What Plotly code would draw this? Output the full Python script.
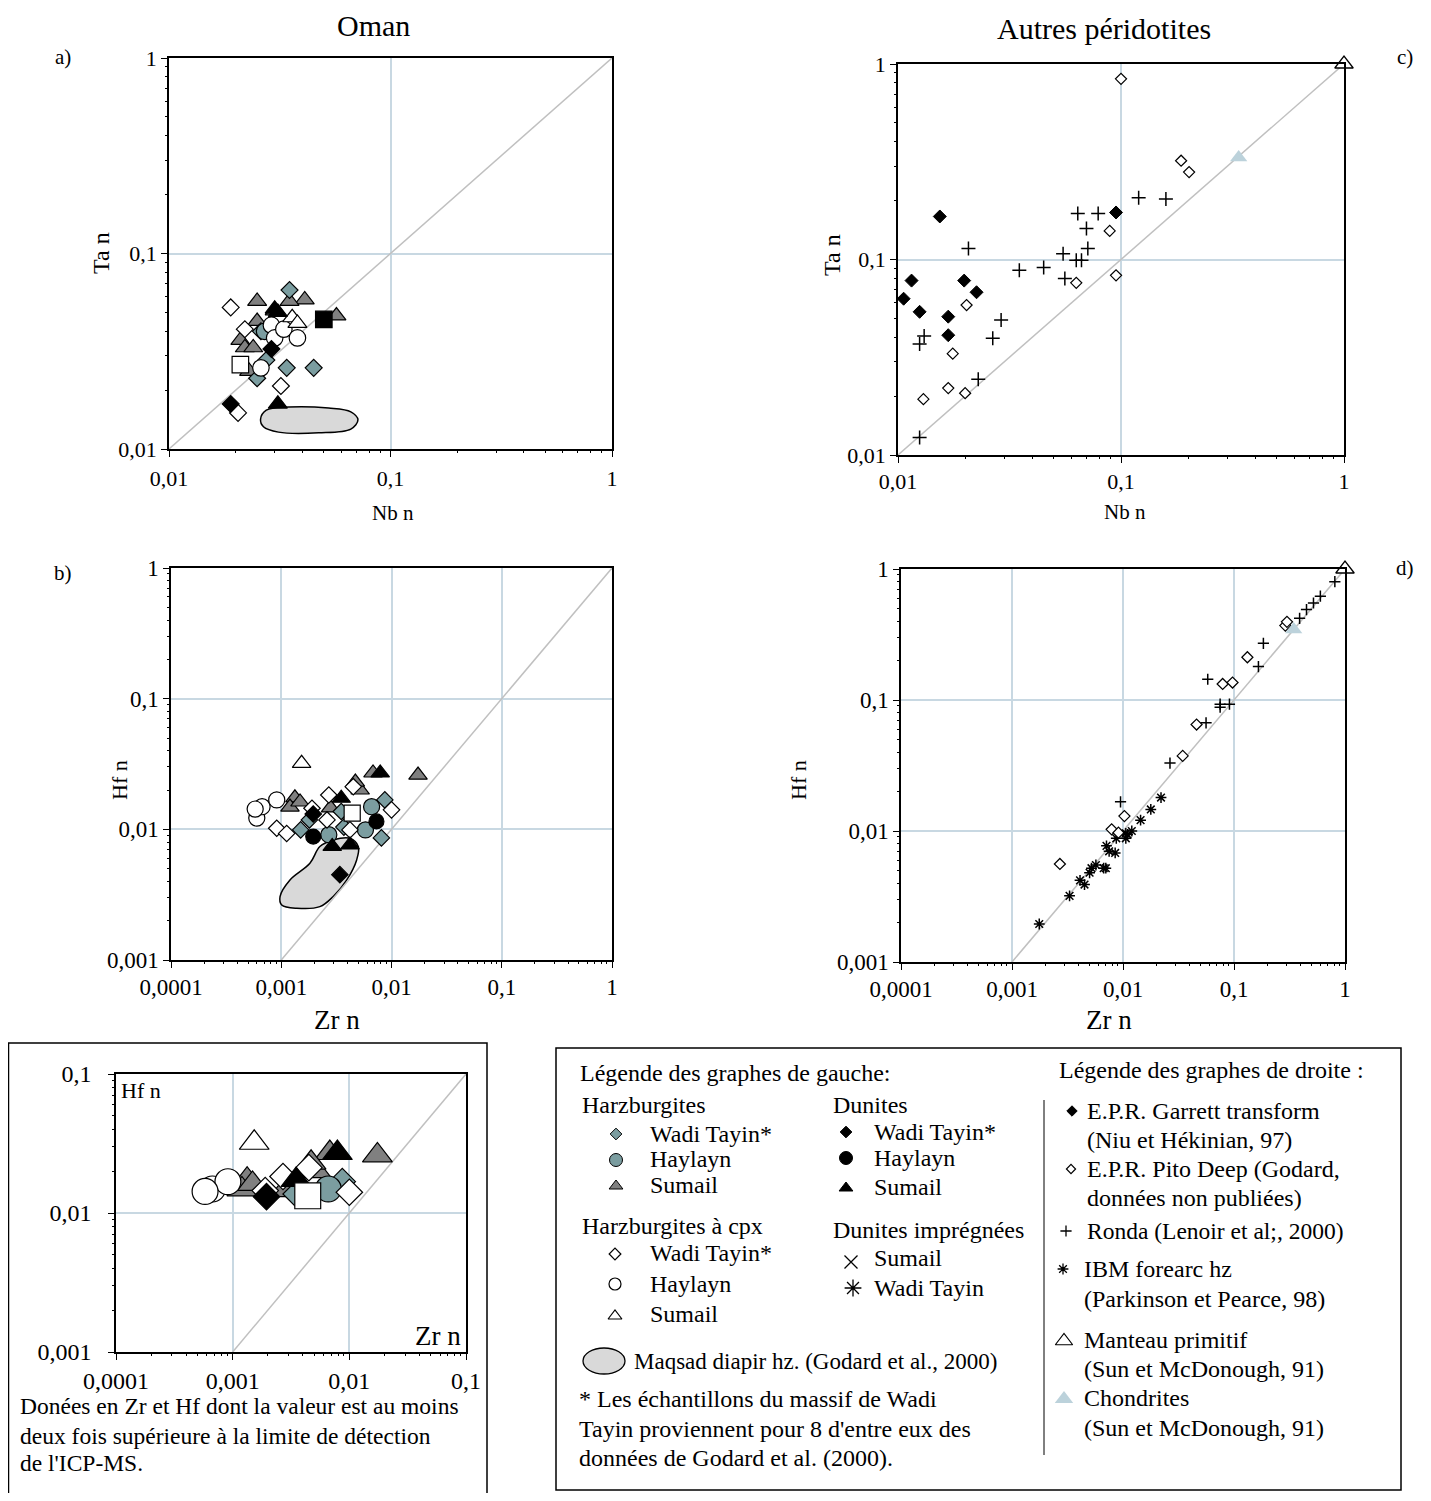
import plotly.graph_objects as go

# page body has an 8px margin: the figure is sized to fit inside the window
OFF = 8
W, H = 1415, 1485

# ---------------- DATA ----------------
# Panel a (Oman) : Nb n vs Ta n
a_harz_wt_nb = [0.035, 0.034, 0.045, 0.025, 0.0275, 0.026]
a_harz_wt_ta = [0.065, 0.026, 0.026, 0.023, 0.0285, 0.040]
a_harz_hay_nb = [0.027]
a_harz_hay_ta = [0.040]
a_harz_sum_nb = [0.025, 0.041, 0.035, 0.057, 0.025, 0.021, 0.022, 0.024, 0.023, 0.030]
a_harz_sum_ta = [0.057, 0.058, 0.057, 0.048, 0.045, 0.036, 0.033, 0.033, 0.025, 0.051]
a_cpx_wt_nb = [0.019, 0.022, 0.032, 0.0205]
a_cpx_wt_ta = [0.053, 0.041, 0.021, 0.0153]
a_cpx_hay_nb = [0.029, 0.030, 0.033, 0.038, 0.026]
a_cpx_hay_ta = [0.043, 0.037, 0.041, 0.037, 0.026]
a_cpx_sum_nb = [0.036, 0.038]
a_cpx_sum_ta = [0.047, 0.044]
a_dun_wt_nb = [0.029, 0.019]
a_dun_wt_ta = [0.0325, 0.017]
a_dun_sum_nb = [0.030, 0.031, 0.031]
a_dun_sum_ta = [0.052, 0.050, 0.017]
a_imp_sum_nb = [0.021]
a_imp_sum_ta = [0.027]
a_imp_wt_nb = [0.050]
a_imp_wt_ta = [0.046]
a_maqsad_nb = [0.0259, 0.0275, 0.0347, 0.0526, 0.0662, 0.0713, 0.0662, 0.0474, 0.0312, 0.0267, 0.0259]
a_maqsad_ta = [0.0142, 0.0158, 0.0164, 0.0162, 0.0155, 0.0141, 0.01265, 0.0121, 0.0122, 0.0130, 0.0142]

# Panel b (Oman) : Zr n vs Hf n
b_harz_wt_zr = [0.0015, 0.0018, 0.0037, 0.0087, 0.0081, 0.0035]
b_harz_wt_hf = [0.0099, 0.0118, 0.0104, 0.0168, 0.0086, 0.0137]
b_harz_hay_zr = [0.0027, 0.0058, 0.0066]
b_harz_hay_hf = [0.0091, 0.0099, 0.0149]
b_harz_sum_zr = [0.0068, 0.0174, 0.0052, 0.00133, 0.0012, 0.00148, 0.0028, 0.0047]
b_harz_sum_hf = [0.027, 0.026, 0.020, 0.0174, 0.0148, 0.0162, 0.0146, 0.023]
b_cpx_wt_zr = [0.00091, 0.00112, 0.0027, 0.0045, 0.0026, 0.010, 0.0019, 0.0042]
b_cpx_wt_hf = [0.0102, 0.0093, 0.0183, 0.0212, 0.0118, 0.0141, 0.0145, 0.0099]
b_cpx_hay_zr = [0.0006, 0.00067, 0.00091, 0.00058]
b_cpx_hay_hf = [0.0122, 0.0149, 0.0168, 0.0143]
b_cpx_sum_zr = [0.00153]
b_cpx_sum_hf = [0.032]
b_dun_wt_zr = [0.00195, 0.0034]
b_dun_wt_hf = [0.0131, 0.0045]
b_dun_hay_zr = [0.00195, 0.0073]
b_dun_hay_hf = [0.0088, 0.0115]
b_dun_sum_zr = [0.0079, 0.0035, 0.0029, 0.0042]
b_dun_sum_hf = [0.027, 0.0173, 0.0074, 0.0076]
b_imp_sum_zr = [0.0044]
b_imp_sum_hf = [0.0133]
b_maqsad_zr = [0.000975, 0.0012, 0.00182, 0.00224, 0.00296, 0.0042, 0.0050, 0.00483,
               0.00393, 0.00296, 0.00224, 0.00138, 0.00101, 0.000975]
b_maqsad_hf = [0.00306, 0.0041, 0.0055, 0.00738, 0.0083, 0.00855, 0.00738, 0.00583,
               0.0041, 0.00306, 0.00256, 0.00249, 0.00264, 0.00306]
inset_min_hf = 0.0125  # inset keeps the better-determined (higher) values

# Panel c (other peridotites) : Nb n vs Ta n
c_garrett_nb = [0.0154, 0.0115, 0.0106, 0.0125, 0.0198, 0.0225, 0.0168, 0.0168, 0.095]
c_garrett_ta = [0.166, 0.078, 0.063, 0.054, 0.078, 0.068, 0.051, 0.041, 0.174]
c_pito_nb = [0.10, 0.089, 0.095, 0.063, 0.0203, 0.0176, 0.0168, 0.020, 0.013, 0.186, 0.202]
c_pito_ta = [0.84, 0.14, 0.083, 0.076, 0.0585, 0.033, 0.022, 0.0207, 0.0193, 0.32, 0.28]
c_ronda_nb = [0.12, 0.064, 0.079, 0.070, 0.071, 0.055, 0.063, 0.0665, 0.056, 0.045, 0.035,
              0.0207, 0.029, 0.0266, 0.0131, 0.0125, 0.0229, 0.0125, 0.159]
c_ronda_ta = [0.207, 0.172, 0.172, 0.144, 0.114, 0.107, 0.099, 0.099, 0.080, 0.091, 0.088,
              0.114, 0.049, 0.0395, 0.0406, 0.037, 0.0244, 0.0123, 0.204]
pm_value = [1.0]
chondrite_nb = [0.337]
chondrite_ta = [0.332]

# Panel d (other peridotites) : Zr n vs Hf n
d_pito_zr = [0.29, 0.30, 0.132, 0.079, 0.097, 0.046, 0.0345, 0.0103, 0.0079, 0.0091, 0.0027]
d_pito_hf = [0.37, 0.395, 0.212, 0.1325, 0.136, 0.065, 0.0374, 0.013, 0.0103, 0.0097, 0.0056]
d_ronda_zr = [0.81, 0.184, 0.166, 0.058, 0.075, 0.075, 0.091, 0.056, 0.0265, 0.0095, 0.60, 0.52, 0.45, 0.39]
d_ronda_hf = [0.80, 0.271, 0.18, 0.144, 0.093, 0.088, 0.093, 0.067, 0.033, 0.0167, 0.62, 0.55, 0.49, 0.42]
d_ibm_zr = [0.00176, 0.0033, 0.0041, 0.0045, 0.005, 0.0052, 0.0057, 0.0067, 0.007, 0.0071,
            0.0075, 0.0085, 0.0087, 0.0106, 0.011, 0.012, 0.0106, 0.0144, 0.0178, 0.022]
d_ibm_hf = [0.00195, 0.0032, 0.0042, 0.0039, 0.0048, 0.0052, 0.0055, 0.0052, 0.0052, 0.0077,
            0.0070, 0.0068, 0.0088, 0.0096, 0.0094, 0.0100, 0.0088, 0.0121, 0.0146, 0.018]
chondrite_zr = [0.345]
chondrite_hf = [0.345]

# ---------------- STYLE ----------------
FONT = "Liberation Serif, Times New Roman, serif"
BLUEGRAY = "#7b9da0"
GRAY = "#808080"
CHON = "#bcd2db"
GRID = "#c8d8e2"
DIAG = "#c0c0c0"


def fx(px):
    return (px - OFF) / W


def fy(py):
    return 1 - (py - OFF) / H


fig = go.Figure()


def add(xs, ys, ax, symbol, size, fill, line="black", lw=1.2):
    fig.add_trace(go.Scatter(
        x=xs, y=ys, mode="markers", xaxis="x" + ax, yaxis="y" + ax,
        showlegend=False, hoverinfo="skip", cliponaxis=False,
        marker=dict(symbol=symbol, size=size, color=fill, line=dict(color=line, width=lw))))


def diag(ax, lo, hi):
    fig.add_trace(go.Scatter(x=[lo, hi], y=[lo, hi], mode="lines", xaxis="x" + ax, yaxis="y" + ax,
                             line=dict(color=DIAG, width=1.5), showlegend=False, hoverinfo="skip"))


def field(xs, ys, ax):
    fig.add_trace(go.Scatter(x=xs, y=ys, mode="lines", fill="toself", fillcolor="#d9d9d9",
                             line=dict(color="black", width=1.5, shape="spline", smoothing=1.0),
                             xaxis="x" + ax, yaxis="y" + ax, showlegend=False, hoverinfo="skip"))


def oman(ax, sets, s):
    (h_wt, h_hay, h_sum, c_wt, c_hay, c_sum, d_wt, d_hay, d_sum, i_sum, i_wt) = sets
    add(*h_sum, ax, "triangle-up", 14 * s, GRAY)
    add(*h_wt, ax, "diamond", 11 * s, BLUEGRAY)
    add(*h_hay, ax, "circle", 14 * s, BLUEGRAY)
    add(*c_wt, ax, "diamond", 11 * s, "white")
    add(*c_hay, ax, "circle", 14 * s, "white")
    add(*c_sum, ax, "triangle-up", 14 * s, "white")
    add(*d_wt, ax, "diamond", 11 * s, "black")
    add(*d_hay, ax, "circle", 13 * s, "black")
    add(*d_sum, ax, "triangle-up", 14 * s, "black")
    add(*i_sum, ax, "square", 14 * s, "white")
    add(*i_wt, ax, "square", 14 * s, "black")


# Panel a
field(a_maqsad_nb, a_maqsad_ta, "")
diag("", 0.01, 1)
oman("", [(a_harz_wt_nb, a_harz_wt_ta), (a_harz_hay_nb, a_harz_hay_ta), (a_harz_sum_nb, a_harz_sum_ta),
          (a_cpx_wt_nb, a_cpx_wt_ta), (a_cpx_hay_nb, a_cpx_hay_ta), (a_cpx_sum_nb, a_cpx_sum_ta),
          (a_dun_wt_nb, a_dun_wt_ta), ([], []), (a_dun_sum_nb, a_dun_sum_ta),
          (a_imp_sum_nb, a_imp_sum_ta), (a_imp_wt_nb, a_imp_wt_ta)], 1.18)

# Panel b
field(b_maqsad_zr, b_maqsad_hf, "3")
diag("3", 0.001, 1)
b_sets = [(b_harz_wt_zr, b_harz_wt_hf), (b_harz_hay_zr, b_harz_hay_hf), (b_harz_sum_zr, b_harz_sum_hf),
          (b_cpx_wt_zr, b_cpx_wt_hf), (b_cpx_hay_zr, b_cpx_hay_hf), (b_cpx_sum_zr, b_cpx_sum_hf),
          (b_dun_wt_zr, b_dun_wt_hf), (b_dun_hay_zr, b_dun_hay_hf), (b_dun_sum_zr, b_dun_sum_hf),
          (b_imp_sum_zr, b_imp_sum_hf), ([], [])]
oman("3", b_sets, 1.15)

# Inset (subset of panel b)
diag("5", 0.001, 0.1)
inset_sets = []
for xs, ys in b_sets:
    keep = [(x, y) for x, y in zip(xs, ys) if y >= inset_min_hf]
    inset_sets.append(([k[0] for k in keep], [k[1] for k in keep]))
oman("5", inset_sets, 1.85)

# Panel c
diag("2", 0.01, 1)
add(c_ronda_nb, c_ronda_ta, "2", "cross-thin", 10, "black", lw=1.5)
add(c_pito_nb, c_pito_ta, "2", "diamond", 8.5, "white", lw=1.2)
add(c_garrett_nb, c_garrett_ta, "2", "diamond", 10, "black", lw=1)
add(chondrite_nb, chondrite_ta, "2", "triangle-up", 15, CHON, line=CHON, lw=0)
add(pm_value, pm_value, "2", "triangle-up", 16, "white", lw=1.3)

# Panel d
diag("4", 0.001, 1)
add(d_ibm_zr, d_ibm_hf, "4", "asterisk", 9, "black", lw=1.5)
add(d_ronda_zr, d_ronda_hf, "4", "cross-thin", 8, "black", lw=1.5)
add(d_pito_zr, d_pito_hf, "4", "diamond", 8.5, "white", lw=1.2)
add(chondrite_zr, chondrite_hf, "4", "triangle-up", 15, CHON, line=CHON, lw=0)
add(pm_value, pm_value, "4", "triangle-up", 16, "white", lw=1.3)

# ---------------- LEGEND GLYPHS (pixel overlay) ----------------
leg = [
    (616, 1134, "diamond", 9, BLUEGRAY, 1), (616, 1160, "circle", 13, BLUEGRAY, 1),
    (616, 1186, "triangle-up", 12, GRAY, 1),
    (846, 1132, "diamond", 9, "black", 1), (846, 1158, "circle", 13, "black", 1),
    (846, 1188, "triangle-up", 12, "black", 1),
    (615, 1254, "diamond", 9, "white", 1.2), (615, 1284, "circle", 12, "white", 1.2),
    (615, 1316, "triangle-up", 12, "white", 1.2),
    (851, 1262, "x-thin", 13, "black", 1.3), (853, 1288, "asterisk", 14, "black", 1.3),
    (1072, 1111, "diamond", 8, "black", 1), (1071, 1169, "diamond", 7, "white", 1.2),
    (1066, 1231, "cross-thin", 8, "black", 1.3), (1063, 1269, "asterisk", 9, "black", 1.3),
    (1064, 1341, "triangle-up", 15, "white", 1.2), (1064, 1399, "triangle-up", 16, CHON, 0),
]
for x, y, sym, sz, col, lw in leg:
    fig.add_trace(go.Scatter(x=[x], y=[y], mode="markers", xaxis="x6", yaxis="y6", showlegend=False,
                             hoverinfo="skip",
                             marker=dict(symbol=sym, size=sz, color=col,
                                         line=dict(color=CHON if lw == 0 else "black", width=lw))))

# ---------------- AXES ----------------
def logaxis(domain, rng, vals, texts, fsize, anchor, standoff=0):
    return dict(domain=domain, type="log", range=rng, anchor=anchor, automargin=False,
                tickmode="array", tickvals=vals, ticktext=texts,
                tickfont=dict(family=FONT, size=fsize, color="black"),
                showline=True, linecolor="black", linewidth=1.5, mirror=True,
                ticks="outside", ticklen=6, tickwidth=1.3, tickcolor="black",
                ticklabelstandoff=standoff,
                showgrid=True, gridcolor=GRID, gridwidth=1.5, zeroline=False, fixedrange=True)


def minor_vals(lo, hi):
    out = []
    for e in range(lo, hi):
        for m in range(2, 10):
            out.append(m * 10.0 ** e)
    return out


def minor_axis(domain, rng, over, anchor, side):
    return dict(domain=domain, type="log", range=rng, overlaying=over, anchor=anchor, side=side,
                automargin=False, tickmode="array", tickvals=minor_vals(rng[0], rng[1]),
                showticklabels=False, ticks="outside", ticklen=3, tickwidth=1, tickcolor="black",
                showgrid=False, showline=False, zeroline=False, fixedrange=True)


v2 = [0.01, 0.1, 1]
t2 = ["0,01", "0,1", "1"]
v4 = [0.0001, 0.001, 0.01, 0.1, 1]
t4 = ["0,0001", "0,001", "0,01", "0,1", "1"]
v3 = [0.001, 0.01, 0.1, 1]
t3 = ["0,001", "0,01", "0,1", "1"]

panels = {
    # id: (x px span, y px span, xrange, yrange, xvals, xtexts, yvals, ytexts, fontsize, x standoff, y standoff)
    "": ((169, 612), (58, 449), [-2, 0], [-2, 0], v2, t2, v2, t2, 22, 3, 0),
    "2": ((898, 1344), (64, 455), [-2, 0], [-2, 0], v2, t2, v2, t2, 22, 0, 0),
    "3": ((171, 612), (568, 960), [-4, 0], [-3, 0], v4, t4, v3, t3, 23, 0, 0),
    "4": ((901, 1345), (569, 962), [-4, 0], [-3, 0], v4, t4, v3, t3, 23, 0, 0),
    "5": ((116, 466), (1074, 1352), [-4, -1], [-3, -1], v4[:4], t4[:4], v3[:3], t3[:3], 24, 0, 12),
}
minor_ids = {"": "7", "2": "8", "3": "9", "4": "10", "5": "11"}

layout = dict(
    width=W, height=H, margin=dict(l=0, r=0, t=0, b=0, pad=0), autosize=False,
    paper_bgcolor="white", plot_bgcolor="rgba(0,0,0,0)", showlegend=False,
    font=dict(family=FONT, color="black"),
    xaxis6=dict(domain=[0, 1], range=[OFF, OFF + W], visible=False, anchor="y6", fixedrange=True),
    yaxis6=dict(domain=[0, 1], range=[OFF + H, OFF], visible=False, anchor="x6", fixedrange=True),
)
for pid, (xd, yd, xr, yr, xv, xt, yv, yt, fs, xso, yso) in panels.items():
    xdom = [fx(xd[0]), fx(xd[1])]
    ydom = [fy(yd[1]), fy(yd[0])]
    layout["xaxis" + pid] = logaxis(xdom, xr, xv, xt, fs, "y" + pid, xso)
    layout["yaxis" + pid] = logaxis(ydom, yr, yv, yt, fs, "x" + pid, yso)
    mid = minor_ids[pid]
    layout["xaxis" + mid] = minor_axis(xdom, xr, "x" + pid, "y" + pid, "bottom")
    layout["yaxis" + mid] = minor_axis(ydom, yr, "y" + pid, "x" + pid, "left")
    fig.add_trace(go.Scatter(x=[], y=[], xaxis="x" + mid, yaxis="y" + pid, showlegend=False))
    fig.add_trace(go.Scatter(x=[], y=[], xaxis="x" + pid, yaxis="y" + mid, showlegend=False))

fig.update_layout(**layout)

# ---------------- TEXT ----------------
def txt(px, py, s, size, anchor="left", angle=0):
    fig.add_annotation(x=fx(px), y=fy(py), xref="paper", yref="paper", text=s,
                       showarrow=False, xanchor=anchor, yanchor="middle", textangle=angle,
                       font=dict(family=FONT, size=size, color="black"))


txt(373, 25, "Oman", 30, "center")
txt(1104, 28, "Autres péridotites", 30, "center")
txt(63, 57, "a)", 21, "center")
txt(63, 573, "b)", 21, "center")
txt(1405, 57, "c)", 21, "center")
txt(1405, 568, "d)", 21, "center")
txt(101, 253, "Ta n", 24, "center", -90)
txt(393, 513, "Nb n", 21, "center")
txt(832, 255, "Ta n", 24, "center", -90)
txt(1125, 512, "Nb n", 21, "center")
txt(119, 780, "Hf n", 22, "center", -90)
txt(337, 1020, "Zr n", 27, "center")
txt(798, 780, "Hf n", 22, "center", -90)
txt(1109, 1020, "Zr n", 27, "center")
txt(119, 1090, "Hf n", 22, "left")
txt(463, 1336, "Zr n", 27, "right")

for line, py in zip(["Donées en Zr et Hf dont la valeur est au moins",
                     "deux fois supérieure à la limite de détection",
                     "de l'ICP-MS."], [1406, 1436, 1463]):
    txt(18, py, line, 23.5)

LS = 24
txt(578, 1073, "Légende des graphes de gauche:", LS)
txt(580, 1105, "Harzburgites", LS)
txt(648, 1134, "Wadi Tayin*", LS)
txt(648, 1159, "Haylayn", LS)
txt(648, 1185, "Sumail", LS)
txt(831, 1105, "Dunites", LS)
txt(872, 1132, "Wadi Tayin*", LS)
txt(872, 1158, "Haylayn", LS)
txt(872, 1187, "Sumail", LS)
txt(580, 1226, "Harzburgites à cpx", LS)
txt(648, 1253, "Wadi Tayin*", LS)
txt(648, 1284, "Haylayn", LS)
txt(648, 1314, "Sumail", LS)
txt(831, 1230, "Dunites imprégnées", LS)
txt(872, 1258, "Sumail", LS)
txt(872, 1288, "Wadi Tayin", LS)
txt(632, 1361, "Maqsad diapir hz. (Godard et al., 2000)", 23)
txt(577, 1399, "* Les échantillons du massif de Wadi", LS)
txt(577, 1429, "Tayin proviennent pour 8 d'entre eux des", LS)
txt(577, 1458, "données de Godard et al. (2000).", LS)

txt(1057, 1070, "Légende des graphes de droite :", LS)
txt(1085, 1111, "E.P.R. Garrett transform", LS)
txt(1085, 1140, "(Niu et Hékinian, 97)", LS)
txt(1085, 1169, "E.P.R. Pito Deep (Godard,", LS)
txt(1085, 1198, "données non publiées)", LS)
txt(1085, 1231, "Ronda (Lenoir et al;, 2000)", 23.5)
txt(1082, 1269, "IBM forearc hz", LS)
txt(1082, 1299, "(Parkinson et Pearce, 98)", LS)
txt(1082, 1340, "Manteau primitif", LS)
txt(1082, 1369, "(Sun et McDonough, 91)", LS)
txt(1082, 1398, "Chondrites", LS)
txt(1082, 1428, "(Sun et McDonough, 91)", LS)

# ---------------- BOXES ----------------
fig.add_shape(type="rect", xref="paper", yref="paper", x0=fx(8.5), x1=fx(487), y0=-0.02, y1=fy(1043),
              line=dict(color="black", width=1.5))
fig.add_shape(type="rect", xref="paper", yref="paper", x0=fx(556), x1=fx(1401), y0=fy(1490), y1=fy(1048),
              line=dict(color="black", width=1.5))
fig.add_shape(type="line", xref="paper", yref="paper", x0=fx(1044), x1=fx(1044), y0=fy(1455), y1=fy(1100),
              line=dict(color="black", width=1))
fig.add_shape(type="circle", xref="paper", yref="paper", x0=fx(583), x1=fx(625), y0=fy(1374), y1=fy(1348),
              fillcolor="#d9d9d9", line=dict(color="black", width=1.3))

fig.write_html("out.html")
